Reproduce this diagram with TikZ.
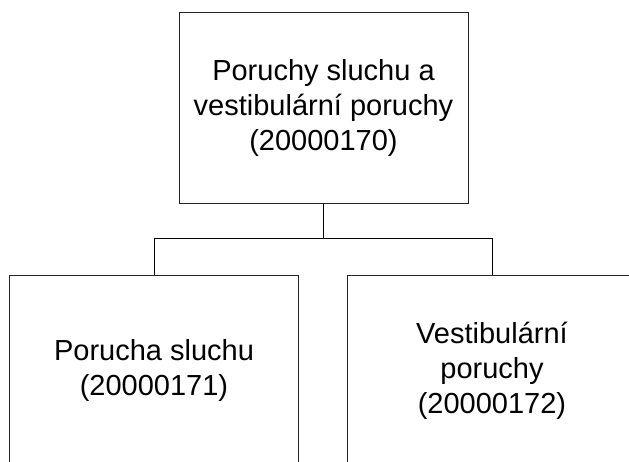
\documentclass[tikz,border=0pt]{standalone}
\usepackage{fontspec}
\setmainfont{Liberation Sans}
\begin{document}
\begin{tikzpicture}[x=1pt,y=-1pt,
  box/.style={draw=black!85, line width=0.8pt, minimum width=289pt, minimum height=191pt, inner sep=0pt, align=center, font=\fontsize{29}{35}\selectfont},
  conn/.style={draw=black, line width=0.8pt}]
\useasboundingbox (0,0) rectangle (629,461);
\node[box] (top) at (323.5,107.5) {Poruchy sluchu a\\vestibulární poruchy\\(20000170)};
\node[box] (left) at (154,370.5) {Porucha sluchu\\(20000171)};
\node[box] (right) at (492,370.5) {Vestibulární\\poruchy\\(20000172)};
\coordinate (mid) at ([yshift=-35pt]top.south);
\draw[conn] (top.south) -- (mid);
\draw[conn] (mid) -| (left.north);
\draw[conn] (mid) -| (right.north);
\end{tikzpicture}
\end{document}
